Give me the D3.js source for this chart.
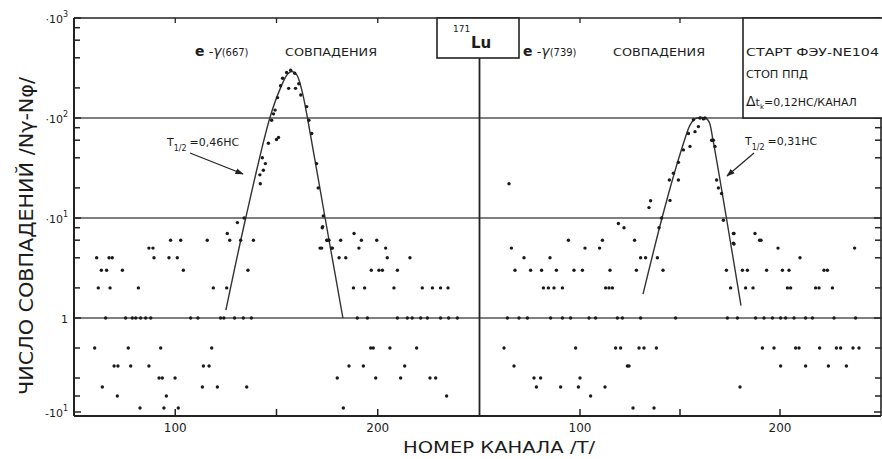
<!DOCTYPE html>
<html>
<head>
<meta charset="utf-8">
<script src="https://cdn.jsdelivr.net/npm/d3@7"></script>
<style>
  body { margin: 0; background: #fff; }
  text { font-family: "DejaVu Sans", "Liberation Sans", sans-serif; fill: #1c1c1c; }
</style>
</head>
<body>
<svg id="chart" width="882" height="459"></svg>
<script>
// channel axis (both panels run over channels 50..250)
const xTicks = [100, 150, 200];
const xTickLabels = [100, 200];

// count axis: log above 1, compressed below 1 (background subtracted counts)
const yMajor = [1000, 100, 10, 1, -10];
const yMajorBase = ["·10", "·10", "·10", "1", "-10"];
const yMajorExp = ["3", "2", "1", "", "1"];
const yMinor = [800, 600, 400, 200, 80, 60, 40, 20, 8, 6, 4, 2, 0, -2, -4];
const gridValues = [100, 10, 1];

// e-gamma (667) coincidences, [channel, count]
const leftPoints = [
  [65.6,1],[75.5,1],[78.8,1],[80.5,1],[82.9,1],[85.4,1],[87.9,1],[107.6,1],[111.2,1],[122.4,1],[124,1],
  [129.3,1],[133.6,1],[137.6,1],[189.9,1],[194.9,1],[209.7,1],[214.6,1],[217,1],[221.2,1],[224.5,1],
  [231,1],[235,1],[239.3,1],
  [62,2],[67.8,2],[81.8,2],[118.8,2],[125.4,2],[188,2],[193.5,2],[208,2],[222,2],[227,2],[231,2],[234.7,2],
  [63.5,3],[66.1,3],[73.9,3],[104,3],[135.9,3],[196.8,3],[200.6,3],[202.3,3],[209.7,3],
  [61.2,4],[67.3,4],[68.9,4],[89.5,4],[96.9,4],[101,4],[180.9,4],[184.2,4],[204.7,4],[215.9,4],
  [87,5],[89,5],[171.5,5],[177.6,5],[190.7,5],[203.9,5],
  [97.7,6],[102.7,6],[115.8,6],[126.9,6],[132.3,6],[138.6,6],[175,6],[175.9,6],[181.7,6],[191.9,6],[199.5,6],
  [125.7,7],[188.3,7],[172.6,8],[130.7,9],[134,10],
  [60.2,0],[76.8,0],[92.8,0],[118,0],[196.5,0],[197.8,0],[206,0],[219.2,0],
  [69.8,-1],[71.7,-1],[78,-1],[87,-1],[113.9,-1],[116.7,-1],[185.8,-1],[192.9,-1],[213.3,-1],
  [92,-2],[93.6,-2],[99.9,-2],[180,-2],[199,-2],[211.3,-2],[225.8,-2],[228.6,-2],
  [64,-3],[113.4,-3],[120.8,-3],[135.3,-3],
  [71.4,-4],[95.6,-4],[234,-4],
  [82.6,-5],[94.4,-5],[101.5,-5],[183,-5],
  [141.8,27],[143.5,30],[142,22],[143,40],[144.5,35],[146,56],[147.6,95],[148.5,110],[149.3,120],
  [151,64],[150,61],[150.5,160],[152,210],[153,250],[155,285],[157,300],[159,280],[156,198],[159.4,198],
  [161,220],[162,170],[164.9,130],[166,95],[167.4,70],[169.8,35],[170.6,20],[173.1,10.5],[172.8,8.2],
  [174.8,6],[177.2,5],[172.3,5]
];

// e-gamma (739) coincidences, [channel, count]
const rightPoints = [
  [63.7,1],[69.5,1],[73.7,1],[85.3,1],[91.2,1],[95.3,1],[104.5,1],[107.8,1],[118.7,1],[121.2,1],[130.3,1],
  [147.8,1],[173.7,1],[178.7,1],[187.8,1],[192,1],[196.2,1],[200.3,1],[202.8,1],[207,1],[212.8,1],
  [216.2,1],[227,1],[237.8,1],
  [81.7,2],[84.2,2],[87,2],[91.2,2],[112.8,2],[114.5,2],[116.2,2],[175.3,2],[182.8,2],[186.5,2],
  [203.7,2],[205.3,2],[217.8,2],[219.5,2],[226.2,2],
  [67.5,3],[75.3,3],[80.8,3],[88.2,3],[97,3],[101.2,3],[115,3],[128.2,3],[141.5,3],[173.2,3],[181.2,3],
  [183.7,3],[193.3,3],[201.2,3],[204.5,3],[222,3],[223.7,3],
  [72,4],[85,4],[130.3,4],[132.8,4],[138.7,4],[210,4],
  [65.7,5],[102.5,5],[109.8,5],[199,5],[237.3,5],[177,5.5],
  [94.2,6],[111.2,6],[127.3,6],[189.8,6],[190.5,6],
  [187.5,7],[177,7],
  [119.2,8.8],[122,8],[139.5,8],[140.8,10],[134.5,12.7],[135.3,14.9],[64.5,22],
  [144.7,24],[145,15],[146.7,28],[149.2,24],[149.2,36],[151.7,48],[155,52],[154.2,70],[156.7,96],
  [157.5,73],[159.2,82],[160,100],[161.7,98],[162.5,100],[165.8,60],[166.7,60],[167.5,52],[168.3,24],
  [169.2,20],[170.8,17.6],[171.7,9.5],[176.7,7],[176.7,5.6],
  [62,0],[97.8,0],[117.8,0],[120.3,0],[129.5,0],[132,0],[138.2,0],[191.2,0],[197,0],[207.8,0],
  [209.5,0],[219.8,0],[228.2,0],[230.3,0],[236.5,0],[239.5,0],
  [67,-1],[123.7,-1],[124.5,-1],[200.3,-1],[212.8,-1],[224.2,-1],[233.2,-1],
  [77,-2],[80.3,-2],[100,-2],
  [78.2,-3],[90.3,-3],[99.2,-3],[112.5,-3],[180,-3],
  [105.3,-4],
  [126.5,-5],[137,-5]
];

// hand drawn fit curves
const leftFit = [[125,1.2],[134.8,10],[146.7,100],[152,200],[155.5,275],[157.7,292],[160,270],
  [162.5,190],[165.3,100],[174,10],[182.8,1]];
const rightFit = [[131.5,1.73],[141,10],[148,32],[152,58],[155,85],[157.5,98],[160,101],[162.7,100],
  [164.5,92],[166.5,60],[173.2,10],[180.5,1.33]];

const svg = d3.select("#chart");

const xLeft = d3.scaleLinear().domain([50, 250]).range([74, 479]);
const xRight = d3.scaleLinear().domain([50, 250]).range([480, 880]);

const yLog = d3.scaleLog().domain([1, 1000]).range([318, 18]);
const yNeg = d3.scaleLinear()
  .domain([1, 0, -1, -2, -3, -4, -5, -10])
  .range([318, 348, 366, 378, 387, 396, 408, 412]);
const y = v => v >= 1 ? yLog(v) : yNeg(v);

const frameTop = y(1000), frameBottom = 416, frameLeft = 74, frameRight = 881, mid = 479.5;
const ink = "#222";

// arrow head
svg.append("defs").append("marker")
  .attr("id", "arr").attr("viewBox", "0 0 10 10")
  .attr("refX", 9).attr("refY", 5)
  .attr("markerWidth", 7).attr("markerHeight", 7)
  .attr("orient", "auto")
  .append("path").attr("d", "M0,1.5 L10,5 L0,8.5 Z").attr("fill", ink);

// horizontal decade lines
svg.append("g").selectAll("line").data(gridValues).join("line")
  .attr("x1", frameLeft).attr("x2", frameRight)
  .attr("y1", d => y(d)).attr("y2", d => y(d))
  .attr("stroke", "#555").attr("stroke-width", 1.3);

// frame
svg.append("line").attr("x1", frameLeft).attr("x2", frameRight).attr("y1", frameTop).attr("y2", frameTop)
  .attr("stroke", ink).attr("stroke-width", 1.6);
svg.append("line").attr("x1", frameLeft).attr("x2", frameRight).attr("y1", frameBottom).attr("y2", frameBottom)
  .attr("stroke", ink).attr("stroke-width", 2.2);
svg.append("line").attr("x1", frameLeft).attr("x2", frameLeft).attr("y1", frameTop).attr("y2", frameBottom)
  .attr("stroke", ink).attr("stroke-width", 2);
svg.append("line").attr("x1", frameRight).attr("x2", frameRight).attr("y1", frameTop).attr("y2", frameBottom)
  .attr("stroke", ink).attr("stroke-width", 1.6);
svg.append("line").attr("x1", mid).attr("x2", mid).attr("y1", 58).attr("y2", frameBottom)
  .attr("stroke", ink).attr("stroke-width", 1.8);

// y ticks on both side axes
[[frameLeft, 1], [frameRight, -1]].forEach(([x0, dir]) => {
  const g = svg.append("g");
  g.selectAll("line.maj").data(yMajor).join("line").attr("class", "maj")
    .attr("x1", x0).attr("x2", x0 + dir * 7)
    .attr("y1", d => y(d)).attr("y2", d => y(d))
    .attr("stroke", ink).attr("stroke-width", 1.5);
  g.selectAll("line.min").data(yMinor).join("line").attr("class", "min")
    .attr("x1", x0).attr("x2", x0 + dir * 6)
    .attr("y1", d => y(d)).attr("y2", d => y(d))
    .attr("stroke", ink).attr("stroke-width", 1.5);
});

// x ticks for both panels
[xLeft, xRight].forEach(sx => {
  const g = svg.append("g");
  g.selectAll("line.b").data(xTicks).join("line").attr("class", "b")
    .attr("x1", d => sx(d)).attr("x2", d => sx(d))
    .attr("y1", frameBottom).attr("y2", frameBottom - 7)
    .attr("stroke", ink).attr("stroke-width", 1.5);
  g.selectAll("line.t").data(xTicks).join("line").attr("class", "t")
    .attr("x1", d => sx(d)).attr("x2", d => sx(d))
    .attr("y1", frameTop).attr("y2", frameTop + 5)
    .attr("stroke", ink).attr("stroke-width", 1.3);
  g.selectAll("text").data(xTickLabels).join("text")
    .attr("x", d => sx(d)).attr("y", 432)
    .attr("text-anchor", "middle").attr("font-size", 12)
    .text(d => d);
});

// y tick labels
const yl = svg.append("g").selectAll("text").data(yMajor).join("text")
  .attr("x", 68).attr("y", d => y(d) + 5)
  .attr("text-anchor", "end").attr("font-size", 11);
yl.append("tspan").text((d, i) => yMajorBase[i]);
yl.append("tspan").attr("dy", -6).attr("font-size", 8).text((d, i) => yMajorExp[i]);

// fitted curves
const line = sx => d3.line().x(d => sx(d[0])).y(d => y(d[1])).curve(d3.curveCatmullRom.alpha(0.5));
svg.append("path").datum(leftFit).attr("d", line(xLeft))
  .attr("fill", "none").attr("stroke", "#333").attr("stroke-width", 1.4);
svg.append("path").datum(rightFit).attr("d", line(xRight))
  .attr("fill", "none").attr("stroke", "#333").attr("stroke-width", 1.4);

// measured points
svg.append("g").selectAll("circle").data(leftPoints).join("circle")
  .attr("cx", d => xLeft(d[0])).attr("cy", d => y(d[1])).attr("r", 1.7).attr("fill", "#1a1a1a");
svg.append("g").selectAll("circle").data(rightPoints).join("circle")
  .attr("cx", d => xRight(d[0])).attr("cy", d => y(d[1])).attr("r", 1.7).attr("fill", "#1a1a1a");

// isotope box
svg.append("rect").attr("x", 437).attr("y", frameTop).attr("width", 82).attr("height", 58 - frameTop)
  .attr("fill", "#fff").attr("stroke", ink).attr("stroke-width", 1.6);
svg.append("text").attr("x", 453).attr("y", 32).attr("font-size", 9).text("171");
svg.append("text").attr("x", 471).attr("y", 48).attr("font-size", 15).attr("font-weight", "bold").text("Lu");

// experiment box
svg.append("rect").attr("x", 743).attr("y", frameTop).attr("width", 150).attr("height", y(100) - frameTop)
  .attr("fill", "#fff").attr("stroke", ink).attr("stroke-width", 1.6);
svg.append("text").attr("x", 746).attr("y", 56).attr("font-size", 11)
  .attr("textLength", 133).attr("lengthAdjust", "spacingAndGlyphs").text("СТАРТ  ФЭУ-NE104");
svg.append("text").attr("x", 746).attr("y", 78).attr("font-size", 11)
  .attr("textLength", 62).attr("lengthAdjust", "spacingAndGlyphs").text("СТОП  ППД");
const dt = svg.append("text").attr("x", 746).attr("y", 106).attr("font-size", 11);
dt.append("tspan").attr("font-size", 14).text("Δ");
dt.append("tspan").text("t");
dt.append("tspan").attr("dy", 3).attr("font-size", 7).text("k");
dt.append("tspan").attr("dy", -3).text("=0,12НС/КАНАЛ");

// panel titles
[[195, 285, "(667)"], [523, 613, "(739)"]].forEach(([x0, x1, e]) => {
  const t = svg.append("text").attr("x", x0).attr("y", 56).attr("font-size", 10);
  t.append("tspan").attr("font-size", 14).attr("font-weight", "bold").text("e");
  t.append("tspan").attr("font-size", 13).text(" -");
  t.append("tspan").attr("font-size", 14).attr("font-style", "italic").text("γ");
  t.append("tspan").text(e);
  svg.append("text").attr("x", x1).attr("y", 56).attr("font-size", 10)
    .attr("textLength", 92).attr("lengthAdjust", "spacingAndGlyphs").text("СОВПАДЕНИЯ");
});

// half-life labels
[[167, 146, "=0,46НС", [190, 153, 243, 174]], [745, 145, "=0,31НС", [754, 153, 727, 176]]].forEach(([tx, ty, s, a]) => {
  const t = svg.append("text").attr("x", tx).attr("y", ty).attr("font-size", 11);
  t.append("tspan").text("T");
  t.append("tspan").attr("dy", 5).attr("font-size", 8).text("1/2");
  t.append("tspan").attr("dy", -5).attr("dx", 3).text(s);
  svg.append("line").attr("x1", a[0]).attr("y1", a[1]).attr("x2", a[2]).attr("y2", a[3])
    .attr("stroke", ink).attr("stroke-width", 1.2).attr("marker-end", "url(#arr)");
});

// axis titles
svg.append("text").attr("x", 403).attr("y", 453).attr("font-size", 16)
  .attr("textLength", 192).attr("lengthAdjust", "spacingAndGlyphs").text("НОМЕР  КАНАЛА  /T/");
const yt = svg.append("text").attr("transform", "translate(33,395) rotate(-90)").attr("font-size", 19)
  .attr("textLength", 318).attr("lengthAdjust", "spacingAndGlyphs");
yt.text("ЧИСЛО  СОВПАДЕНИЙ /Nγ-Nφ/");
</script>
</body>
</html>
